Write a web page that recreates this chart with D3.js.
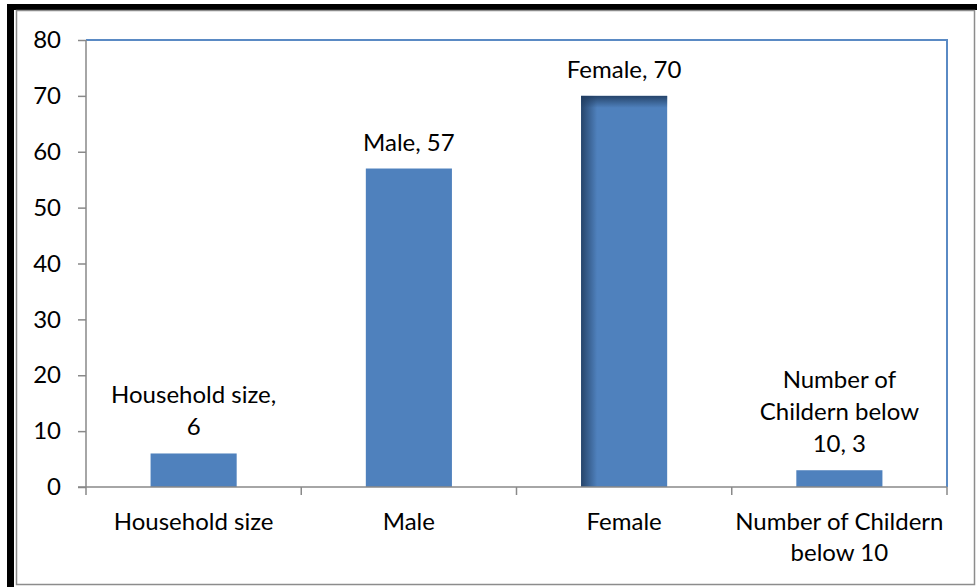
<!DOCTYPE html>
<html>
<head>
<meta charset="utf-8">
<script src="https://cdn.jsdelivr.net/npm/d3@7"></script>
<style>
  body { margin: 0; background: #fff; }
  svg { display: block; }
  text { font-family: Lato, "Noto Sans", sans-serif; fill: #000; }
</style>
</head>
<body>
<svg id="chart" width="977" height="587"></svg>
<script>
// Survey summary: household size and population counts
const categories = ["Household size", "Male", "Female", "Number of Childern below 10"];
const values = [6, 57, 70, 3];
const yTicks = [0, 10, 20, 30, 40, 50, 60, 70, 80];

const W = 977, H = 587;
const plot = { left: 86, right: 947, top: 40, bottom: 487 };
const FONT = 24;
const barColor = "#4f81bd";
const axisGray = "#898989";

const svg = d3.select("#chart");

// frame: heavy black edge on top/left, thin grey chart border inside
svg.append("rect").attr("x", 0).attr("y", 0).attr("width", W).attr("height", H).attr("fill", "#fff");
svg.append("rect").attr("x", 7).attr("y", 4).attr("width", W - 7).attr("height", 6).attr("fill", "#000");
svg.append("rect").attr("x", 7).attr("y", 4).attr("width", 7).attr("height", H - 4).attr("fill", "#000");
svg.append("rect").attr("x", 16.5).attr("y", 10.5).attr("width", 958).attr("height", 574)
  .attr("fill", "#fff").attr("stroke", "#8c8c8c").attr("stroke-width", 1.5);

const x = d3.scaleBand().domain(categories).range([plot.left, plot.right])
  .paddingInner(0.6).paddingOuter(0.3);
const y = d3.scaleLinear().domain([0, 80]).range([plot.bottom, plot.top]);

// inner shadow gradients for the highlighted bar
const defs = svg.append("defs");
const gTop = defs.append("linearGradient").attr("id", "shTop").attr("x1", 0).attr("y1", 0).attr("x2", 0).attr("y2", 1);
gTop.append("stop").attr("offset", 0).attr("stop-color", "#1f3a5c").attr("stop-opacity", 0.85);
gTop.append("stop").attr("offset", 1).attr("stop-color", "#1f3a5c").attr("stop-opacity", 0);
const gLeft = defs.append("linearGradient").attr("id", "shLeft").attr("x1", 0).attr("y1", 0).attr("x2", 1).attr("y2", 0);
gLeft.append("stop").attr("offset", 0).attr("stop-color", "#1f3a5c").attr("stop-opacity", 0.85);
gLeft.append("stop").attr("offset", 1).attr("stop-color", "#1f3a5c").attr("stop-opacity", 0);

// plot-area border (top & right in blue)
svg.append("path")
  .attr("d", `M${plot.left},${plot.top}H${plot.right}V${plot.bottom}`)
  .attr("fill", "none").attr("stroke", "#5a8ac4").attr("stroke-width", 2);

// y axis
const yAxis = d3.axisLeft(y).tickValues(yTicks).tickSize(8).tickPadding(17).tickFormat(d3.format("d"));
const gy = svg.append("g").attr("transform", `translate(${plot.left},0)`).call(yAxis);
gy.select(".domain").attr("stroke", axisGray).attr("stroke-width", 1.5).attr("d", `M0,${plot.top}V${plot.bottom}`);
gy.selectAll(".tick line").attr("stroke", axisGray).attr("stroke-width", 1.5);
gy.selectAll(".tick text").attr("font-size", FONT).attr("font-family", "Lato, 'Noto Sans', sans-serif").attr("fill", "#000");

// bars
const data = categories.map((c, i) => ({ c, v: values[i] }));
const maxV = d3.max(values);
const bars = svg.append("g");
data.forEach(d => {
  const bx = x(d.c), bw = x.bandwidth(), by = y(d.v), bh = y(0) - y(d.v);
  bars.append("rect").attr("x", bx).attr("y", by).attr("width", bw).attr("height", bh).attr("fill", barColor);
  if (d.v === maxV) {
    bars.append("rect").attr("x", bx).attr("y", by).attr("width", 16).attr("height", bh).attr("fill", "url(#shLeft)");
    bars.append("rect").attr("x", bx).attr("y", by).attr("width", bw).attr("height", 12).attr("fill", "url(#shTop)");
  }
});

// x axis line and ticks at category boundaries
const step = x.step();
const boundaries = categories.map(c => x(c) - step * 0.3).concat([plot.right]);
svg.append("line").attr("x1", plot.left - 8).attr("x2", plot.right).attr("y1", plot.bottom).attr("y2", plot.bottom)
  .attr("stroke", axisGray).attr("stroke-width", 1.5);
svg.append("g").selectAll("line").data(boundaries).join("line")
  .attr("x1", d => d).attr("x2", d => d).attr("y1", plot.bottom).attr("y2", plot.bottom + 8)
  .attr("stroke", axisGray).attr("stroke-width", 1.5);

// word wrap helper
function wrapWords(text, maxW) {
  const probe = svg.append("text").attr("font-size", FONT);
  const words = text.split(" ");
  const lines = [];
  let cur = "";
  words.forEach(w => {
    const t = cur ? cur + " " + w : w;
    probe.text(t);
    if (cur && probe.node().getComputedTextLength() > maxW) { lines.push(cur); cur = w; }
    else cur = t;
  });
  if (cur) lines.push(cur);
  probe.remove();
  return lines;
}

const LINE = 32;

// category labels
data.forEach(d => {
  const lines = wrapWords(d.c, step - 4);
  const t = svg.append("text").attr("text-anchor", "middle").attr("font-size", FONT);
  lines.forEach((ln, i) => {
    t.append("tspan").attr("x", x(d.c) + x.bandwidth() / 2).attr("y", 530 + i * 31).text(ln);
  });
});

// data labels "Category, value"
data.forEach(d => {
  const lines = wrapWords(`${d.c}, ${d.v}`, 176);
  const base = y(d.v) - 18;
  const t = svg.append("text").attr("text-anchor", "middle").attr("font-size", FONT);
  lines.forEach((ln, i) => {
    t.append("tspan").attr("x", x(d.c) + x.bandwidth() / 2)
      .attr("y", base - (lines.length - 1 - i) * LINE).text(ln);
  });
});
</script>
</body>
</html>
